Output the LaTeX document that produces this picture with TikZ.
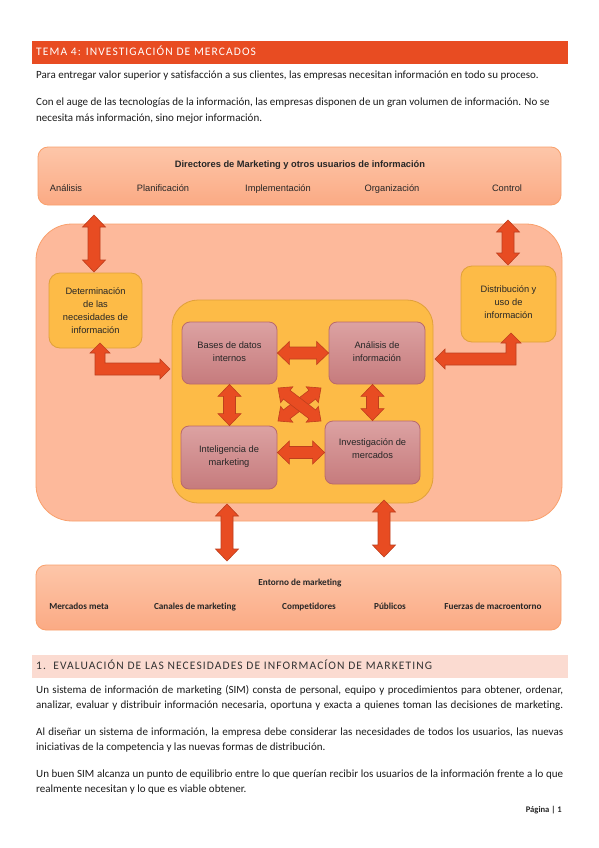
\documentclass[tikz,border=0pt]{standalone}
\usepackage{fontspec}
\setmainfont{Carlito}[Ligatures=NoCommon]
\newfontfamily\arialf{Liberation Sans}
\usetikzlibrary{calc}
\definecolor{hdr}{HTML}{E84C22}
\definecolor{secbar}{HTML}{FBDBD1}
\definecolor{bodytxt}{HTML}{1A1A1A}
\definecolor{salmtop}{HTML}{FDC6A9}
\definecolor{salmbot}{HTML}{FBAA84}
\definecolor{salmline}{HTML}{F9A06C}
\definecolor{bigfill}{HTML}{FDB99B}
\definecolor{goldfill}{HTML}{FDBB47}
\definecolor{goldline}{HTML}{E0A03A}
\definecolor{pinktop}{HTML}{DCA2A2}
\definecolor{pinkbot}{HTML}{C67B7D}
\definecolor{pinkline}{HTML}{B9696B}
\definecolor{arrfill}{HTML}{E84C22}
\definecolor{arrline}{HTML}{BE3F1D}
\tikzset{
  bodyline/.style={anchor=west, inner sep=0pt, font=\fontsize{11}{13.2}\selectfont, text=bodytxt},
  salmbox/.style={draw=salmline, line width=0.8pt, rounded corners=10pt, top color=salmtop, bottom color=salmbot},
  bigbox/.style={draw=salmline, line width=0.8pt, rounded corners=36pt, fill=bigfill},
  goldbox/.style={draw=goldline, line width=0.8pt, fill=goldfill},
  pinkbox/.style={draw=pinkline, line width=0.8pt, rounded corners=8pt, top color=pinktop, bottom color=pinkbot},
  dlabel/.style={inner sep=0pt, align=center, font=\arialf\fontsize{9.3}{13}\selectfont, text=black!85},
  slabel/.style={dlabel, text height=6.8pt, text depth=2pt},
  elabel/.style={inner sep=0pt, text height=6.5pt, text depth=2pt, font=\bfseries\fontsize{9.2}{10}\selectfont, text=black!85},
  blockarrow/.style={fill=arrfill, draw=arrline, line width=0.6pt, line join=miter},
}
\newcommand{\dblarrowx}[5]{%
  \path (#1) coordinate (da) (#2) coordinate (db);
  \path ($(da)!#5!(db)$) coordinate (da1) ($(db)!#5!(da)$) coordinate (db1);
  \draw[blockarrow] (da) -- ($(da1)!#3!90:(db)$) -- ($(da1)!#4!90:(db)$) -- ($(db1)!#4!-90:(da)$) -- ($(db1)!#3!-90:(da)$) -- (db) -- ($(db1)!#3!90:(da)$) -- ($(db1)!#4!90:(da)$) -- ($(da1)!#4!-90:(db)$) -- ($(da1)!#3!-90:(db)$) -- cycle;
}
\newcommand{\dblarrow}[2]{\dblarrowx{#1}{#2}{11.5pt}{6pt}{12pt}}
\begin{document}
\begin{tikzpicture}[x=1pt,y=-1pt]
\useasboundingbox (0,0) rectangle (599,848);
\fill[white] (0,0) rectangle (599,848);

% header
\node[fill=hdr, minimum width=536pt, minimum height=23pt, inner sep=0pt] (hbar) at (300,52.5) {};
\node[anchor=west, inner sep=0pt, text=white, font=\fontsize{11.5}{13}\selectfont\addfontfeatures{LetterSpace=9.5}] (htxt) at (36,53) {\strut TEMA 4: INVESTIGACIÓN DE MERCADOS};

\node[bodyline] (p1) at (36,75.5) {\strut Para entregar valor superior y satisfacción a sus clientes, las empresas necesitan información en todo su proceso.};
\node[bodyline] (p2a) at (36,103) {\strut Con el auge de las tecnologías de la información, las empresas disponen de un gran volumen de información. No se};
\node[bodyline] (p2b) at (36,118.5) {\strut necesita más información, sino mejor información.};

% diagram boxes
\node[salmbox, minimum width=523pt, minimum height=58pt] (top) at (299.5,176) {};
\node[bigbox, minimum width=526pt, minimum height=297pt] (big) at (299,372.5) {};
\node[salmbox, minimum width=525pt, minimum height=65pt] (ent) at (298.5,597.5) {};
\node[goldbox, rounded corners=11pt, minimum width=93pt, minimum height=75pt] (lbox) at (95.5,310.5) {};
\node[goldbox, rounded corners=11pt, minimum width=95pt, minimum height=76pt] (rbox) at (508.5,304) {};
\node[goldbox, rounded corners=26pt, minimum width=261pt, minimum height=203pt] (inner) at (302.5,401.5) {};
\node[pinkbox, minimum width=95pt, minimum height=62pt] (bases) at (229.5,353) {};
\node[pinkbox, minimum width=96pt, minimum height=62pt] (anal) at (377,353) {};
\node[pinkbox, minimum width=96pt, minimum height=63pt] (intel) at (229,457.5) {};
\node[pinkbox, minimum width=95pt, minimum height=63pt] (inves) at (372.5,452.5) {};

% top box texts
\node[slabel, font=\arialf\bfseries\fontsize{9.3}{11}\selectfont] (ttl) at (300,165.5) {Directores de Marketing y otros usuarios de información};
\node[slabel] (t1) at (66,189) {Análisis};
\node[slabel] (t2) at (163,189) {Planificación};
\node[slabel] (t3) at (278,189) {Implementación};
\node[slabel] (t4) at (392,189) {Organización};
\node[slabel] (t5) at (507,189) {Control};

% box texts
\node[dlabel] (lt) at (95.5,311) {Determinación\\de las\\necesidades de\\información};
\node[dlabel] (rt) at (508.5,302) {Distribución y\\uso de\\información};
\node[dlabel] (bt) at (229.5,351.5) {Bases de datos\\internos};
\node[dlabel] (at) at (377,351.5) {Análisis de\\información};
\node[dlabel] (it) at (229,456.5) {Inteligencia de\\marketing};
\node[dlabel] (vt) at (372.5,449) {Investigación de\\mercados};

% entorno texts
\node[elabel] (et) at (300,583.5) {Entorno de marketing};
\node[elabel] (e1) at (79,607.5) {Mercados meta};
\node[elabel] (e2) at (195,607.5) {Canales de marketing};
\node[elabel] (e3) at (309,607.5) {Competidores};
\node[elabel] (e4) at (390,607.5) {Públicos};
\node[elabel] (e5) at (493,607.5) {Fuerzas de macroentorno};

% arrow end coordinates
\coordinate (a1s) at (94,215);
\coordinate (a1e) at (94,272);
\coordinate (a2s) at (508,220);
\coordinate (a2e) at (508,265);
\coordinate (a10s) at (227,504);
\coordinate (a10e) at (227,561);
\coordinate (a11s) at (384,500);
\coordinate (a11e) at (384,557);

\dblarrow{a1s}{a1e}
\dblarrow{a2s}{a2e}
\dblarrow{bases.east}{anal.west}
\dblarrow{bases.south}{bases.south |- intel.north}
\dblarrow{inves.north |- anal.south}{inves.north}
\dblarrow{intel.east |- inves.west}{inves.west}
\dblarrow{a10s}{a10e}
\dblarrow{a11s}{a11e}

% crossing arrows
\coordinate (x1) at (278,388);
\coordinate (x2) at (321,421);
\coordinate (x3) at (321,388);
\coordinate (x4) at (278,421);
\dblarrowx{x3}{x4}{10pt}{5.5pt}{11pt}
\dblarrowx{x1}{x2}{10pt}{5.5pt}{11pt}

% L-shaped arrows
\coordinate (l1tip) at (100,343);
\coordinate (l1end) at (170,369);
\draw[blockarrow] (l1tip) -- ++(10,10) -- ++(-5,0) -- (105,363) -- (160,363) -- (160,359) -- (l1end) -- (160,379) -- (160,375) -- (95,375) -- (95,353) -- (90,353) -- cycle;
\coordinate (l2tip) at (511,333);
\coordinate (l2end) at (435,359);
\draw[blockarrow] (l2tip) -- ++(10,10) -- ++(-5,0) -- (516,365) -- (445,365) -- (445,369) -- (l2end) -- (445,349) -- (445,353) -- (506,353) -- (506,343) -- (501,343) -- cycle;

% section 2
\node[fill=secbar, minimum width=536pt, minimum height=23pt, inner sep=0pt] (sbar) at (300,666.5) {};
\node[anchor=west, inner sep=0pt, text=black!80, font=\fontsize{11.5}{13}\selectfont\addfontfeatures{LetterSpace=9.5}] (stxt) at (36,667) {\strut 1.\ \ EVALUACIÓN DE LAS NECESIDADES DE INFORMACÍON DE MARKETING};

\node[bodyline] (q1a) at (36,690.5) {\hbox to 527pt{\strut Un sistema de información de marketing (SIM) consta de personal, equipo y procedimientos para obtener, ordenar,}};
\node[bodyline] (q1b) at (36,706) {\hbox to 527pt{\strut analizar, evaluar y distribuir información necesaria, oportuna y exacta a quienes toman las decisiones de marketing.}};
\node[bodyline] (q2a) at (36,732.5) {\hbox to 527pt{\strut Al diseñar un sistema de información, la empresa debe considerar las necesidades de todos los usuarios, las nuevas}};
\node[bodyline] (q2b) at (36,748) {\strut iniciativas de la competencia y las nuevas formas de distribución.};
\node[bodyline] (q3a) at (36,774.5) {\hbox to 527pt{\strut Un buen SIM alcanza un punto de equilibrio entre lo que querían recibir los usuarios de la información frente a lo que}};
\node[bodyline] (q3b) at (36,790) {\strut realmente necesitan y lo que es viable obtener.};

% footer
\node[anchor=east, inner sep=0pt, font=\bfseries\fontsize{8.6}{10}\selectfont, text=black!85] (foot) at (562,810.5) {Página | 1};
\end{tikzpicture}
\end{document}
